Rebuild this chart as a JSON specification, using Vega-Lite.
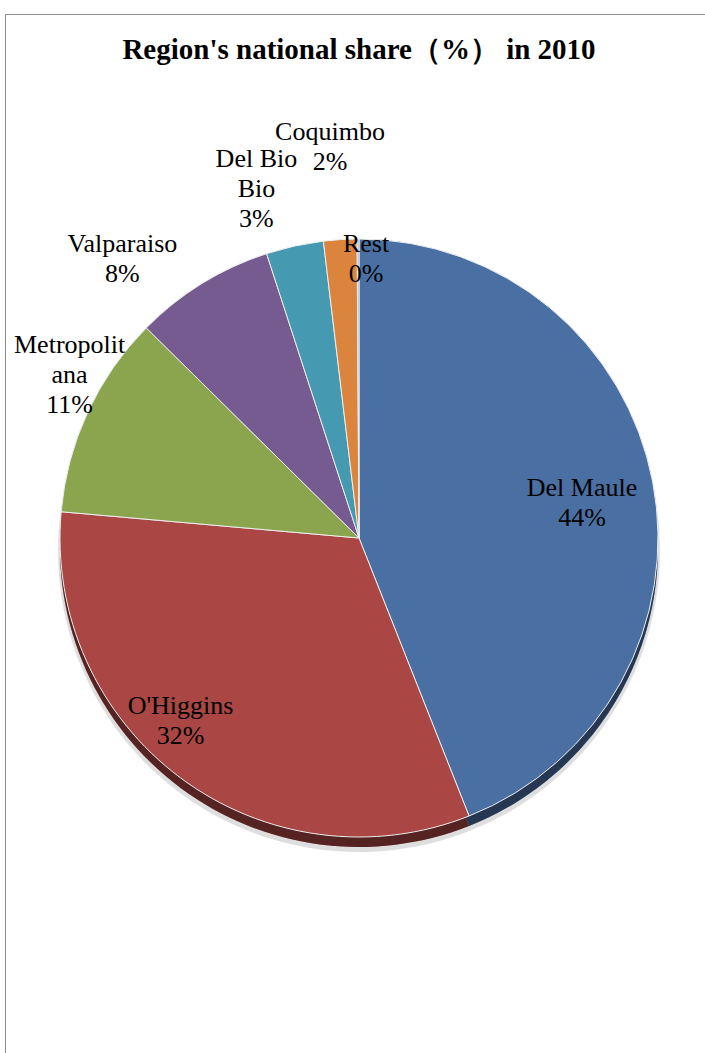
{
  "$schema": "https://vega.github.io/schema/vega-lite/v6.json",
  "width": 708,
  "height": 1048,
  "autosize": {"type": "none"},
  "padding": {"left": 5, "top": 14, "right": 0, "bottom": 0},
  "background": "white",
  "view": {"stroke": "#8c8c8c", "strokeWidth": 1},
  "config": {
    "font": "Liberation Serif",
    "view": {"stroke": "#8c8c8c", "strokeWidth": 1},
    "text": {"font": "Liberation Serif"}
  },
  "title": {
    "text": "Region's national share（%） in 2010",
    "font": "Liberation Serif",
    "fontSize": 29,
    "fontWeight": "bold",
    "color": "black",
    "anchor": "middle",
    "frame": "group",
    "baseline": "alphabetic",
    "offset": -74
  },
  "data": {
    "values": [
      {"idx": 1, "Region": "Del Maule", "share": 44.0, "label": "Del Maule\n44%"},
      {"idx": 2, "Region": "O'Higgins", "share": 32.4, "label": "O'Higgins\n32%"},
      {"idx": 3, "Region": "Metropolitana", "share": 11.0, "label": "Metropolit\nana\n11%"},
      {"idx": 4, "Region": "Valparaiso", "share": 7.6, "label": "Valparaiso\n8%"},
      {"idx": 5, "Region": "Del Bio Bio", "share": 3.1, "label": "Del Bio\nBio\n3%"},
      {"idx": 6, "Region": "Coquimbo", "share": 1.8, "label": "Coquimbo\n2%"},
      {"idx": 7, "Region": "Rest", "share": 0.1, "label": "Rest\n0%"}
    ]
  },
  "encoding": {
    "theta": {"field": "share", "type": "quantitative", "stack": true},
    "order": {"field": "idx", "type": "quantitative"}
  },
  "layer": [
    {
      "mark": {"type": "arc", "outerRadius": 301, "yOffset": 13, "color": "#c8c8c8", "opacity": 0.6},
      "encoding": {}
    },
    {
      "mark": {"type": "arc", "outerRadius": 299, "yOffset": 10},
      "encoding": {
        "color": {"field": "Region", "type": "nominal", "legend": null}
      }
    },
    {
      "mark": {"type": "arc", "outerRadius": 299, "yOffset": 10, "color": "black", "opacity": 0.5},
      "encoding": {}
    },
    {
      "mark": {"type": "arc", "outerRadius": 299, "stroke": "#eeeeee", "strokeWidth": 1},
      "encoding": {
        "color": {
          "field": "Region",
          "type": "nominal",
          "scale": {
            "domain": ["Del Maule", "O'Higgins", "Metropolitana", "Valparaiso", "Del Bio Bio", "Coquimbo", "Rest"],
            "range": ["#4A6FA2", "#AA4744", "#8BA54F", "#765B91", "#4599B0", "#DB843D", "#93A9CF"]
          },
          "legend": null
        }
      }
    },
    {
      "mark": {"type": "text", "radius": 226, "dx": 1, "dy": 0, "font": "Liberation Serif", "fontSize": 26, "lineHeight": 30, "lineBreak": "\n", "baseline": "alphabetic", "align": "center", "color": "black"},
      "encoding": {"text": {"condition": {"test": "datum.Region === 'Del Maule'", "field": "label"}, "value": ""}}
    },
    {
      "mark": {"type": "text", "radius": 255, "dx": -26, "dy": -28, "font": "Liberation Serif", "fontSize": 26, "lineHeight": 30, "lineBreak": "\n", "baseline": "alphabetic", "align": "center", "color": "black"},
      "encoding": {"text": {"condition": {"test": "datum.Region === \"O'Higgins\"", "field": "label"}, "value": ""}}
    },
    {
      "mark": {"type": "text", "radius": 320, "dx": 1, "dy": -51, "font": "Liberation Serif", "fontSize": 26, "lineHeight": 30, "lineBreak": "\n", "baseline": "alphabetic", "align": "center", "color": "black"},
      "encoding": {"text": {"condition": {"test": "datum.Region === 'Metropolitana'", "field": "label"}, "value": ""}}
    },
    {
      "mark": {"type": "text", "radius": 340, "dx": -58, "dy": 3, "font": "Liberation Serif", "fontSize": 26, "lineHeight": 30, "lineBreak": "\n", "baseline": "alphabetic", "align": "center", "color": "black"},
      "encoding": {"text": {"condition": {"test": "datum.Region === 'Valparaiso'", "field": "label"}, "value": ""}}
    },
    {
      "mark": {"type": "text", "radius": 370, "dx": -23, "dy": -10, "font": "Liberation Serif", "fontSize": 26, "lineHeight": 30, "lineBreak": "\n", "baseline": "alphabetic", "align": "center", "color": "black"},
      "encoding": {"text": {"condition": {"test": "datum.Region === 'Del Bio Bio'", "field": "label"}, "value": ""}}
    },
    {
      "mark": {"type": "text", "radius": 398, "dx": -4, "dy": -1, "font": "Liberation Serif", "fontSize": 26, "lineHeight": 30, "lineBreak": "\n", "baseline": "alphabetic", "align": "center", "color": "black"},
      "encoding": {"text": {"condition": {"test": "datum.Region === 'Coquimbo'", "field": "label"}, "value": ""}}
    },
    {
      "mark": {"type": "text", "radius": 286, "dx": 8, "dy": 0, "font": "Liberation Serif", "fontSize": 26, "lineHeight": 30, "lineBreak": "\n", "baseline": "alphabetic", "align": "center", "color": "black"},
      "encoding": {"text": {"condition": {"test": "datum.Region === 'Rest'", "field": "label"}, "value": ""}}
    }
  ]
}
